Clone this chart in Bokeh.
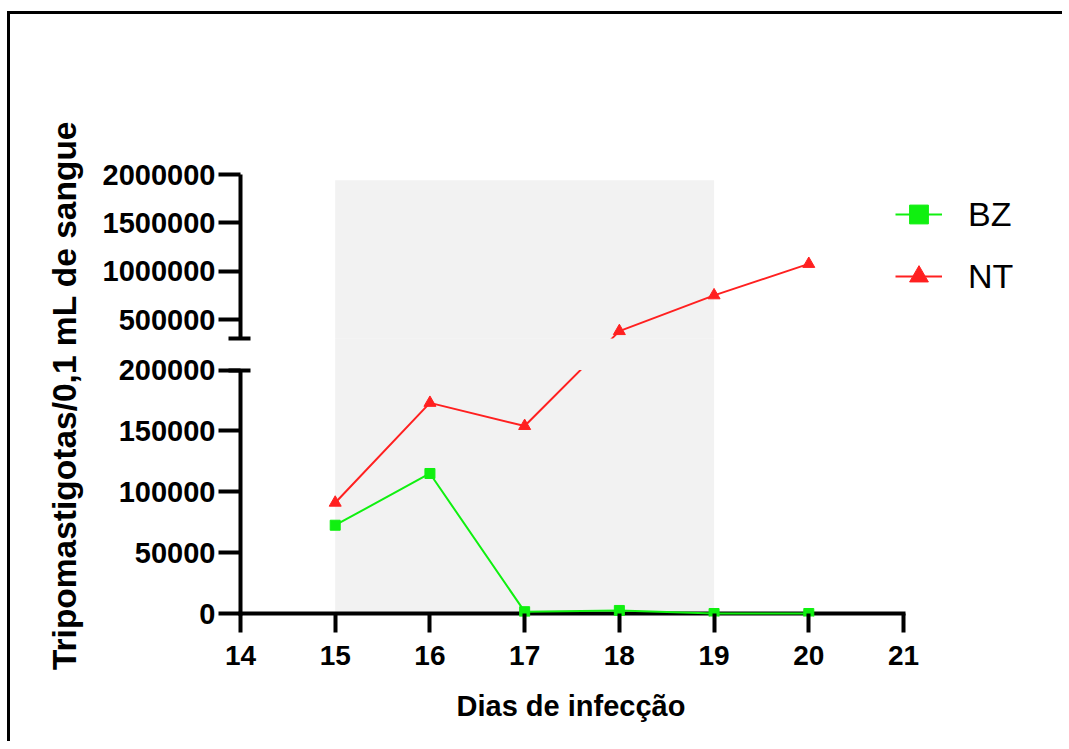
from bokeh.plotting import figure
from bokeh.models import FixedTicker, Legend, LegendItem, Range1d, Title
from bokeh.embed import file_html
from bokeh.resources import INLINE

# ---------------- data ----------------
days = [15, 16, 17, 18, 19, 20]
bz = [72500, 115000, 1500, 2500, 0, 0]
nt = [91000, 173000, 154000, 380000, 750000, 1075000]
x_ticks = [14, 15, 16, 17, 18, 19, 20, 21]
y_ticks_low = [0, 50000, 100000, 150000, 200000]
y_ticks_high = [500000, 1000000, 1500000, 2000000]
shade_days = [15, 19]
shade_top = 1940000

# ---------------- broken axis mapping ----------------
LOW_MAX = 200000      # top of lower segment
HIGH_MIN = 300000     # bottom of upper segment
HIGH_MAX = 2000000    # top of upper segment
GAP_TOP = 225600      # display value where the upper segment starts
HIGH_SCALE = 0.0794   # display units per upper-segment unit


def disp(v):
    return v if v <= LOW_MAX else round(GAP_TOP + (v - HIGH_MIN) * HIGH_SCALE)


bz_d = [disp(v) for v in bz]
nt_d = [disp(v) for v in nt]

W, H = 1055, 730
ML, MR, MT, MB = 226, 5, 160, 128
frame_w = W - ML - MR
px_per_day = 663 / (x_ticks[-1] - x_ticks[0])
x_start = x_ticks[0] - 4 / px_per_day
x_end = x_start + frame_w / px_per_day
y_end = disp(HIGH_MAX)
units_per_px = LOW_MAX / 243.5
y_start = -3 * units_per_px

p = figure(width=W, height=H, output_backend="svg", toolbar_location=None,
           x_range=Range1d(x_start, x_end), y_range=Range1d(y_start, y_end),
           min_border_left=ML, min_border_right=MR, min_border_top=MT, min_border_bottom=MB)
p.outline_line_color = None
p.grid.visible = False
p.background_fill_color = "white"
p.border_fill_color = "white"

FONT = "Liberation Sans"

# x axis
xa = p.xaxis[0]
xa.ticker = FixedTicker(ticks=x_ticks)
xa.axis_line_color = None
xa.major_tick_in = 3
xa.major_tick_out = 16
xa.major_tick_line_width = 4
xa.major_tick_line_color = "black"
xa.minor_tick_line_color = None
xa.major_label_text_font = FONT
xa.major_label_text_font_style = "bold"
xa.major_label_text_font_size = "28px"
xa.major_label_text_color = "black"
xa.major_label_standoff = 13
# blank spacer label pushes the title below a little lower
xa.axis_label = " "
xa.axis_label_text_font_size = "11px"
xa.axis_label_standoff = 0

# x axis title, centred under the 14-21 span
x_title = Title(text="Dias de infecção", align="left", offset=220, standoff=10,
                text_font=FONT, text_font_style="bold", text_font_size="29px",
                text_color="black")
p.add_layout(x_title, "below")

# y axis
ya = p.yaxis[0]
all_y = y_ticks_low + y_ticks_high
ya.ticker = FixedTicker(ticks=[disp(v) for v in all_y], minor_ticks=[LOW_MAX, GAP_TOP])
ya.major_label_overrides = {disp(v): str(v) for v in all_y}
ya.axis_line_color = None
ya.major_tick_in = 4
ya.major_tick_out = 18
ya.major_tick_line_width = 4
ya.major_tick_line_color = "black"
ya.minor_tick_in = 14
ya.minor_tick_out = 8
ya.minor_tick_line_width = 4
ya.minor_tick_line_color = "black"
ya.major_label_text_font = FONT
ya.major_label_text_font_style = "bold"
ya.major_label_text_font_size = "29px"
ya.major_label_text_color = "black"
ya.major_label_standoff = 3
ya.axis_label = "Tripomastigotas/0,1 mL de sangue"
ya.axis_label_text_font = FONT
ya.axis_label_text_font_style = "bold"
ya.axis_label_text_font_size = "33.5px"
ya.axis_label_text_color = "black"
ya.axis_label_standoff = 17

# shaded period
GRAY = "#f2f2f2"
p.quad(left=shade_days[0], right=shade_days[1], bottom=0, top=disp(shade_top),
       fill_color=GRAY, line_color=None)

# axis lines (broken y axis)
p.segment(x0=[x_ticks[0], x_ticks[0], x_ticks[0]], y0=[0, 0, GAP_TOP],
          x1=[x_ticks[-1], x_ticks[0], x_ticks[0]], y1=[0, LOW_MAX, disp(HIGH_MAX)],
          line_width=4, line_color="black", line_cap="square")

GREEN = "#10f010"
RED = "#ff2020"
bz_line = p.line(days, bz_d, line_color=GREEN, line_width=2)
bz_pts = p.scatter(days, bz_d, marker="square", size=10, fill_color=GREEN, line_color=GREEN)
nt_line = p.line(days, nt_d, line_color=RED, line_width=2)
nt_pts = p.scatter(days, nt_d, marker="triangle", size=12, fill_color=RED, line_color=RED)

# gap mask
p.quad(left=x_start, right=x_end, bottom=LOW_MAX, top=GAP_TOP, fill_color="white", line_color=None)
p.quad(left=shade_days[0], right=shade_days[1], bottom=LOW_MAX, top=GAP_TOP,
       fill_color=GRAY, line_color=None)

legend = Legend(items=[LegendItem(label="BZ", renderers=[bz_line, bz_pts]),
                       LegendItem(label="NT", renderers=[nt_line, nt_pts])],
                location=(659, 309), orientation="vertical",
                glyph_width=47, glyph_height=62, label_height=62,
                label_standoff=26, spacing=0, padding=0, margin=0,
                border_line_color=None, background_fill_alpha=0,
                label_text_font=FONT, label_text_font_size="34px", label_text_color="black")
p.add_layout(legend, "center")

p.margin = (14, 0, 0, 10)
p.styles = {"box-shadow": "-3px -3px 0px 0px black"}

open("out.html", "w").write(file_html(p, INLINE))
